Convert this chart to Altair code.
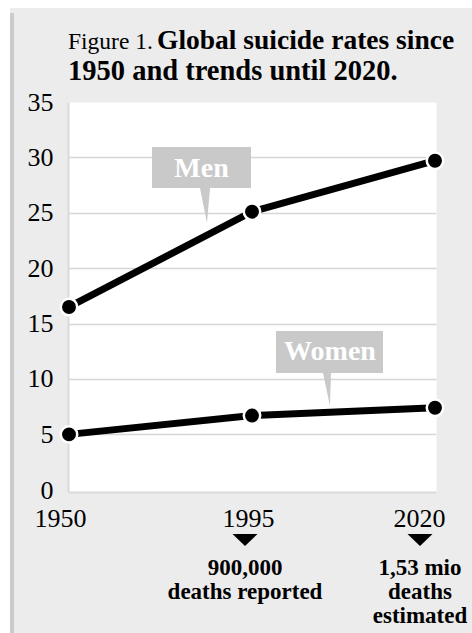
import altair as alt
import pandas as pd

# ---- data ----
years = ["1950", "1995", "2020"]
men = [16.5, 25.1, 29.7]
women = [5.0, 6.7, 7.4]
y_ticks = [0, 5, 10, 15, 20, 25, 30, 35]

title_regular = "Figure 1."
title_bold_1 = "Global suicide rates since"
title_bold_2 = "1950 and trends until 2020."

note_1995 = ["900,000", "deaths reported"]
note_2020 = ["1,53 mio", "deaths", "estimated"]
series_labels = ["Men", "Women"]

df = pd.DataFrame({
    "year": years * 2,
    "rate": men + women,
    "sex": ["Men"] * 3 + ["Women"] * 3,
})
one = pd.DataFrame({"k": [0]})

FONT = "Liberation Serif"
W, H = 368, 390

x_enc = alt.X(
    "year:O", sort=years,
    scale=alt.Scale(type="point", padding=0.0055),
    axis=alt.Axis(
        title=None, labelAngle=0, labelFont=FONT, labelFontSize=26,
        labelColor="black", ticks=False, tickSize=0, labelPadding=13,
        domainColor="#dadada", domainWidth=2, grid=False,
        labelOffset={"condition": [
            {"test": "datum.value == '1950'", "value": -9},
            {"test": "datum.value == '1995'", "value": -4}],
            "value": -16},
    ),
)
y_enc = alt.Y(
    "rate:Q",
    scale=alt.Scale(domain=[-0.2, 35], nice=False, zero=False),
    axis=alt.Axis(
        title=None, values=y_ticks, labelFont=FONT, labelFontSize=26,
        labelColor="black", ticks=False, tickSize=0, labelPadding=15,
        domainColor="#dadada", domainWidth=2,
        grid=True, gridColor="#d6d6d6", gridWidth=1.5,
        gridOpacity={"condition": {"test": "datum.value == 0 || datum.value == 35", "value": 0}, "value": 1},
        labelOffset={"condition": {"test": "datum.value == 0", "value": 1}, "value": 0},
    ),
)

def rect(x, x2, y, y2, color):
    return alt.Chart(one).mark_rect(color=color, strokeWidth=0).encode(
        x=alt.value(x), x2=alt.value(x2), y=alt.value(y), y2=alt.value(y2))

# frame pieces outside plot (plot origin at page 68,102)
white_left = rect(-68, -58, -102, 531, "white")
white_top = rect(-68, 404, -102, -94, "white")
left_bar = rect(-58, -54, -89, 531, "#cbcbcb")

lines = alt.Chart(df).mark_line(color="black", strokeWidth=7).encode(
    x=x_enc, y=y_enc, detail="sex:N")
points = alt.Chart(df).mark_circle(fill="black", stroke="white", strokeWidth=2.5,
                                   size=270, opacity=1).encode(
    x=alt.X("year:O", sort=years), y="rate:Q")

BOX = "#c9c9c9"
men_box = rect(84, 183, 45, 86, BOX)
women_box = rect(208, 315, 229, 271, BOX)
men_ptr = alt.Chart(one).mark_point(
    shape="M-0.286,-1L0.286,-1L0.114,1Z", filled=True, color=BOX, opacity=1,
    size=1225, strokeWidth=0).encode(x=alt.value(137), y=alt.value(103.5))
women_ptr = alt.Chart(one).mark_point(
    shape="M-0.242,-1L0.242,-1L0.18,1Z", filled=True, color=BOX, opacity=1,
    size=1089, strokeWidth=0).encode(x=alt.value(259), y=alt.value(287.5))
men_txt = alt.Chart(one).mark_text(
    font=FONT, fontSize=28, fontWeight="bold", color="white", align="center",
    baseline="alphabetic").encode(x=alt.value(133.5), y=alt.value(75),
                                  text=alt.value(series_labels[0]))
women_txt = alt.Chart(one).mark_text(
    font=FONT, fontSize=28, fontWeight="bold", color="white", align="center",
    baseline="alphabetic").encode(x=alt.value(262), y=alt.value(258),
                                  text=alt.value(series_labels[1]))

t1 = alt.Chart(one).mark_text(font=FONT, fontSize=23.5, color="black", align="left",
                              baseline="alphabetic").encode(
    x=alt.value(0), y=alt.value(-53), text=alt.value(title_regular))
t2 = alt.Chart(one).mark_text(font=FONT, fontSize=27.5, fontWeight="bold", color="black",
                              align="left", baseline="alphabetic").encode(
    x=alt.value(89), y=alt.value(-53), text=alt.value(title_bold_1))
t3 = alt.Chart(one).mark_text(font=FONT, fontSize=28.5, fontWeight="bold", color="black",
                              align="left", baseline="alphabetic").encode(
    x=alt.value(0), y=alt.value(-22), text=alt.value(title_bold_2))

TRI = "M-1,-0.48L1,-0.48L0,0.48Z"
tri95 = alt.Chart(one).mark_point(shape=TRI, filled=True, color="black", opacity=1,
                                  size=625, strokeWidth=0, xOffset=-7).encode(
    x=alt.datum("1995"), y=alt.value(438))
tri20 = alt.Chart(one).mark_point(shape=TRI, filled=True, color="black", opacity=1,
                                  size=625, strokeWidth=0, xOffset=-15).encode(
    x=alt.datum("2020"), y=alt.value(438))
n95 = alt.Chart(one).mark_text(font=FONT, fontSize=23, fontWeight="bold", color="black",
                               align="center", baseline="alphabetic", lineHeight=24,
                               dx=-7).encode(
    x=alt.datum("1995"), y=alt.value(473), text=alt.value(note_1995))
n20 = alt.Chart(one).mark_text(font=FONT, fontSize=23, fontWeight="bold", color="black",
                               align="center", baseline="alphabetic", lineHeight=24,
                               dx=-15).encode(
    x=alt.datum("2020"), y=alt.value(473), text=alt.value(note_2020))

chart = alt.layer(
    white_left, white_top, left_bar,
    lines, points,
    men_box, women_box, men_ptr, women_ptr, men_txt, women_txt,
    t1, t2, t3, tri95, tri20, n95, n20,
).properties(
    width=W, height=H,
    autosize=alt.AutoSizeParams(type="none"),
    padding={"left": 68, "top": 102, "right": 36, "bottom": 141},
    background="#ececec",
).configure_view(fill="white", strokeOpacity=0)

chart.save("out.html", embed_options={"renderer": "svg", "actions": False})
